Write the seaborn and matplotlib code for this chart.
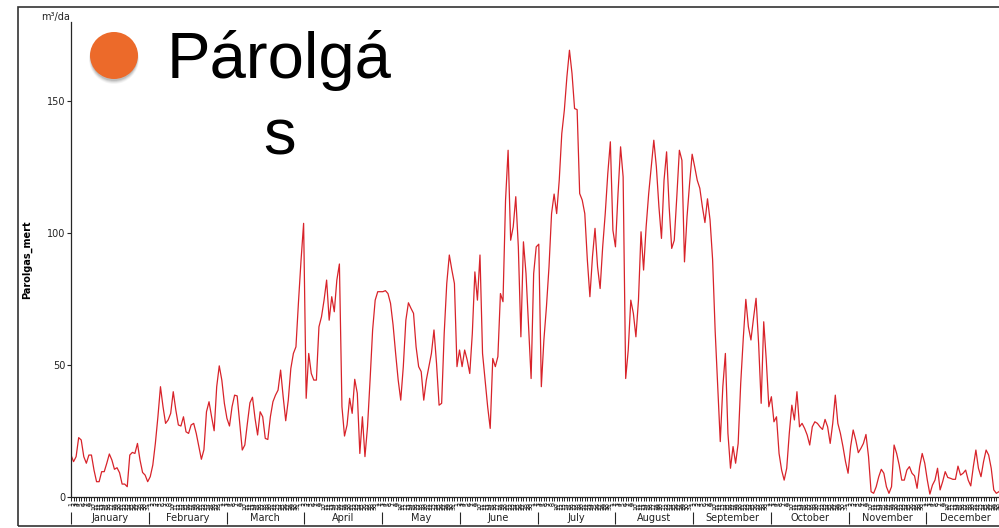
import numpy as np
import pandas as pd
import seaborn as sns
import matplotlib.pyplot as plt
from matplotlib.patches import Ellipse, Rectangle

sns.set_style("ticks")
plt.rcParams['font.family'] = ['DejaVu Sans']

# daily evaporation values (m3/day)
jan_feb = [15.9, 13.4, 15.3, 22.5, 21.6, 15.3, 12.8, 15.9, 15.9, 10.2,
           5.8, 5.8, 9.6, 9.6, 12.8, 16.3, 14.0, 10.5, 11.1, 9.2,
           4.9, 4.9, 3.9, 15.9, 16.9, 16.5, 20.3, 14.0, 9.3, 8.3,
           5.8, 7.7, 12.1, 20.3, 30.4, 41.8, 34.2, 27.9, 29.2, 31.7,
           39.9, 33.0, 27.3, 26.9, 30.4, 24.7, 24.1, 27.3, 27.9, 24.1,
           19.1, 14.3, 17.9, 32.3, 36.1, 30.4, 25.1, 41.8, 49.7, 44.3,
           35.5, 29.8]
mar_apr = [26.9, 34.2, 38.6, 38.3, 27.9, 17.8, 19.7, 27.9, 35.7, 37.8,
           29.8, 23.5, 32.3, 30.4, 22.2, 21.8, 30.4, 36.1, 38.6, 40.5,
           48.1, 38.0, 28.9, 36.7, 48.7, 54.4, 56.9, 74.0, 89.8, 103.7,
           37.4, 54.4, 46.8, 44.3, 44.3, 64.5, 68.3, 74.6, 82.2, 67.0,
           75.9, 70.2, 82.2, 88.3, 34.2, 23.1, 27.3, 37.4, 31.7, 44.6,
           39.3, 16.5, 30.4, 15.3, 26.6, 44.3, 63.3, 74.6, 77.8, 77.8,
           77.8]
may_jun = [78.2, 77.1, 73.4, 65.2, 54.4, 44.3, 36.7, 49.4, 67.0, 73.6,
           71.5, 69.6, 56.9, 49.4, 47.5, 36.7, 44.3, 49.4, 54.4, 63.3,
           50.6, 34.8, 35.5, 62.0, 80.9, 91.7, 86.0, 80.9, 49.4, 55.7,
           49.4, 55.7, 51.9, 46.8, 62.0, 85.3, 74.6, 91.7, 54.4, 44.3,
           34.2, 26.0, 52.5, 49.4, 53.2, 77.1, 74.0, 112.5, 131.4, 97.3,
           102.4, 113.8, 94.8, 60.7, 96.7, 84.7, 64.5, 44.9, 84.7, 94.8,
           95.8, 41.8]
jul_aug = [59.5, 72.1, 87.2, 107.4, 114.8, 107.4, 120.0, 137.7, 146.6, 159.2,
           169.3, 160.5, 147.2, 146.8, 115.0, 112.5, 107.4, 89.8, 75.9, 91.0,
           101.8, 87.2, 79.0, 94.8, 107.4, 122.6, 134.6, 101.1, 94.8, 115.0,
           132.7, 121.3, 44.9, 55.7, 74.6, 69.6, 60.7, 74.6, 100.5, 86.0,
           102.4, 115.0, 125.1, 135.2, 125.1, 110.0, 98.0, 120.0, 130.8, 110.0,
           94.2, 97.3, 113.8, 131.4, 127.6, 89.1, 106.2, 118.8, 129.9, 125.1,
           120.0]
sep_oct = [117.0, 110.0, 104.0, 113.0, 105.0, 90.0, 63.0,
           41.8, 21.0, 41.8, 54.4, 24.1, 10.9, 19.1, 12.8, 20.3, 43.1,
           60.1, 74.9, 64.5, 59.5, 67.7, 75.3, 58.2, 35.5, 66.4, 51.9,
           34.2, 38.0, 28.5, 30.4, 16.5, 10.2, 6.4, 10.9, 24.1, 34.8,
           29.2, 39.9, 26.6, 27.9, 26.0, 23.5, 19.7, 26.6, 28.5, 27.9,
           26.6, 25.6, 29.4, 26.6, 20.3, 27.9, 38.6, 27.9, 24.1, 19.1,
           13.4, 9.0, 19.1, 25.4]
nov_dec = [21.6, 16.8, 18.4, 20.3, 23.7, 15.3, 2.0, 1.4, 3.9, 7.7,
           10.5, 9.0, 3.9, 1.4, 3.9, 19.7, 16.5, 12.1, 6.4, 6.4,
           10.2, 11.5, 9.0, 8.0, 3.3, 11.5, 16.5, 12.8, 6.4, 1.1,
           4.5, 6.4, 10.9, 2.7, 5.8, 9.6, 7.4, 7.1, 6.7, 6.7,
           11.7, 8.3, 9.0, 10.2, 6.4, 4.2, 11.5, 17.8, 10.9, 7.7,
           13.4, 17.8, 15.9, 10.9, 2.7, 1.4, 2.0, 3.0]

months = ['January', 'February', 'March', 'April', 'May', 'June', 'July',
          'August', 'September', 'October', 'November', 'December']
y_ticks = [0, 50, 100, 150]

values = jan_feb + mar_apr + may_jun + jul_aug + sep_oct + nov_dec
df = pd.DataFrame({'day': np.arange(len(values)), 'Parolgas_mert': values})
n_days = 365

W, H = 999, 528
fig = plt.figure(figsize=(W / 100, H / 100), dpi=100)

# slide frame
fig.add_artist(Rectangle((18 / W, 2 / H), 1000 / W, 519 / H, fill=False,
                         edgecolor='#333333', linewidth=1.2))

ax = fig.add_axes([71 / W, 31 / H, 933 / W, 475 / H])
sns.lineplot(data=df, x='day', y='Parolgas_mert', ax=ax,
             color='#d8232a', linewidth=0.9)
ax.set_xlim(0, n_days)
ax.set_ylim(0, 180)
ax.set_yticks(y_ticks)
ax.tick_params(axis='y', length=3, width=0.8, labelsize=7, pad=1,
               labelcolor='#222222')
ax.spines[['top', 'right']].set_visible(False)
ax.spines['left'].set_linewidth(0.9)
ax.spines['bottom'].set_linewidth(0.9)

# dense day-of-month tick labels (illegible band, as in the original)
dates = pd.date_range('2013-01-01', periods=n_days)
ax.set_xticks(np.arange(n_days))
ax.set_xticklabels(dates.day.astype(str), rotation=90, fontsize=4.5,
                   color='black')
ax.tick_params(axis='x', length=3, width=0.6, pad=0.5, color='black')
ax.set_xlabel('')
ax.set_ylabel('Parolgas_mert', fontsize=7, fontweight='bold', color='black')
ax.yaxis.set_label_coords(-0.042, 0.5)

# month band
sec = ax.secondary_xaxis(-0.0316)
bounds = np.arange(13) * n_days / 12
sec.set_xticks(bounds, labels=[''] * 13)
sec.set_xticks(bounds[:-1] + n_days / 24, labels=months, minor=True)
sec.tick_params(which='major', length=8.5, width=0.8, direction='out')
sec.tick_params(which='minor', length=0, labelsize=7, pad=1,
                labelcolor='#222222')
sec.spines['bottom'].set_visible(False)

fig.text(70 / W, 1 - 17 / H, 'm³/da', ha='right', va='center', fontsize=7,
         color='#222222')

# title with bullet and soft drop shadow
for k, a in enumerate([0.04, 0.06, 0.08, 0.10]):
    fig.add_artist(Ellipse((114 / W, 1 - (59 - k * 0.5) / H),
                           (50 - k) / W, (50 - k) / H, facecolor='black',
                           alpha=a, edgecolor='none'))
fig.add_artist(Ellipse((114 / W, 1 - 55.5 / H), 48 / W, 47 / H,
                       facecolor='#ec6a2a', edgecolor='none'))
fig.text(279 / W, 1 - 78 / H, 'Párolgá', ha='center', va='baseline',
         fontsize=47, family='Liberation Sans', color='black')
fig.text(280 / W, 1 - 154 / H, 's', ha='center', va='baseline',
         fontsize=47, family='Liberation Sans', color='black')

fig.savefig('out.png', dpi=100)
